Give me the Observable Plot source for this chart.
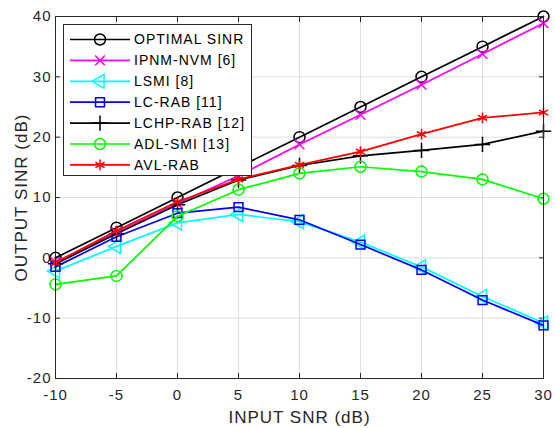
<!DOCTYPE html>
<html>
<head>
<meta charset="utf-8">
<script src="https://cdn.jsdelivr.net/npm/d3@7"></script>
<script src="https://cdn.jsdelivr.net/npm/@observablehq/plot@0.6"></script>
<style>
  html, body { margin: 0; padding: 0; background: #fff; }
  #wrap { position: relative; width: 555px; height: 428px; font-family: "Liberation Sans", Arial, sans-serif; }
  #legend { position: absolute; left: 0; top: 0; }
</style>
</head>
<body>
<div id="wrap"></div>
<script>
const snr = [-10, -5, 0, 5, 10, 15, 20, 25, 30];
const optimal = [0, 5, 10, 15, 20, 25, 30, 35, 40];
const ipnm = [-0.7, 4.2, 9.0, 13.6, 18.8, 23.7, 28.7, 33.8, 38.9];
const lsmi = [-2.2, 1.9, 5.8, 7.2, 6.0, 2.6, -1.5, -6.4, -10.8];
const lcrab = [-1.5, 3.5, 7.4, 8.4, 6.3, 2.2, -2.0, -7.0, -11.2];
const lchp = [-1.0, 4.0, 8.8, 12.9, 15.3, 16.9, 17.8, 18.8, 21.0];
const adl = [-4.4, -3.0, 6.9, 11.3, 14.0, 15.1, 14.3, 13.0, 9.8];
const avl = [-0.8, 4.5, 9.3, 13.0, 15.4, 17.6, 20.5, 23.2, 24.1];

const xTicks = [-10, -5, 0, 5, 10, 15, 20, 25, 30];
const yTicks = [-20, -10, 0, 10, 20, 30, 40];
const xLabel = "INPUT SNR (dB)";
const yLabel = "OUTPUT SINR (dB)";

const series = [
  {name: "OPTIMAL SINR", values: optimal, color: "#000000", symbol: "circle", rotate: 0},
  {name: "IPNM-NVM [6]", values: ipnm, color: "#ff00ff", symbol: "times", rotate: 0},
  {name: "LSMI [8]", values: lsmi, color: "#00ffff", symbol: "triangle", rotate: -90},
  {name: "LC-RAB [11]", values: lcrab, color: "#0000ff", symbol: "square", rotate: 0},
  {name: "LCHP-RAB [12]", values: lchp, color: "#000000", symbol: "plus", rotate: 0},
  {name: "ADL-SMI [13]", values: adl, color: "#00ff00", symbol: "circle", rotate: 0},
  {name: "AVL-RAB", values: avl, color: "#ff0000", symbol: "asterisk", rotate: 0}
];

const symSize = {circle: 5.5, times: 4.5, triangle: 5.2, square: 5, plus: 5, asterisk: 5};
const fmt = d => String(d);
const font = "'Liberation Sans', Arial, sans-serif";

const marks = [
  Plot.gridX(xTicks, {stroke: "#dedede", strokeOpacity: 1}),
  Plot.gridY(yTicks, {stroke: "#dedede", strokeOpacity: 1}),
  Plot.axisX(xTicks, {anchor: "bottom", tickSize: 0, tickPadding: 11, fontSize: 15, fill: "#262626", tickFormat: fmt, label: null}),
  Plot.axisY(yTicks, {anchor: "left", tickSize: 0, tickPadding: 4, fontSize: 15, fill: "#262626", tickFormat: fmt, label: null}),
  Plot.axisX(xTicks, {anchor: "bottom", tickSize: -5, tickFormat: () => "", label: null, stroke: "#262626"}),
  Plot.axisX(xTicks, {anchor: "top", tickSize: -5, tickFormat: () => "", label: null, stroke: "#262626"}),
  Plot.axisY(yTicks, {anchor: "left", tickSize: -5, tickFormat: () => "", label: null, stroke: "#262626"}),
  Plot.axisY(yTicks, {anchor: "right", tickSize: -5, tickFormat: () => "", label: null, stroke: "#262626"}),
  Plot.text([xLabel], {frameAnchor: "bottom", lineAnchor: "middle", textAnchor: "middle", dy: 39.5, fontSize: 17, fill: "#262626", text: d => d}),
  Plot.text([yLabel], {frameAnchor: "left", lineAnchor: "middle", textAnchor: "middle", dx: -34, rotate: -90, fontSize: 17, fill: "#262626", text: d => d})
];

for (const s of series) {
  const data = snr.map((x, i) => ({x, y: s.values[i]}));
  marks.push(Plot.line(data, {x: "x", y: "y", stroke: s.color, strokeWidth: 1.7}));
  marks.push(Plot.dot(data, {x: "x", y: "y", stroke: s.color, fill: "none", symbol: s.symbol, r: symSize[s.symbol], rotate: s.rotate, strokeWidth: 1.5}));
}
marks.push(Plot.frame({stroke: "#262626", strokeWidth: 1}));

const chart = Plot.plot({
  width: 555,
  height: 428,
  marginLeft: 55,
  marginRight: 12,
  marginTop: 16,
  marginBottom: 50,
  style: {fontFamily: font, fontSize: "15px", background: "#fff", color: "#262626", letterSpacing: "1px"},
  x: {domain: [-10, 30]},
  y: {domain: [-20, 40]},
  marks
});
document.getElementById("wrap").appendChild(chart);

// Legend overlay
const lg = d3.select("#wrap").append("svg")
  .attr("id", "legend")
  .attr("width", 555).attr("height", 428);
const box = {x: 63.5, y: 24.5, w: 188, h: 151};
lg.append("rect").attr("x", box.x).attr("y", box.y).attr("width", box.w).attr("height", box.h)
  .attr("fill", "#fff").attr("stroke", "#262626").attr("stroke-width", 1);
const symMap = {circle: d3.symbolCircle, times: d3.symbolTimes, triangle: d3.symbolTriangle, square: d3.symbolSquare, plus: d3.symbolPlus, asterisk: d3.symbolAsterisk};
series.forEach((s, i) => {
  const cy = 39.5 + i * 20.9;
  const g = lg.append("g");
  g.append("line").attr("x1", 70).attr("x2", 130).attr("y1", cy).attr("y2", cy)
    .attr("stroke", s.color).attr("stroke-width", 1.7);
  const r = symSize[s.symbol];
  g.append("path").attr("d", d3.symbol(symMap[s.symbol], Math.PI * r * r)())
    .attr("transform", `translate(100,${cy}) rotate(${s.rotate})`)
    .attr("fill", "none").attr("stroke", s.color).attr("stroke-width", 1.5);
  g.append("text").attr("x", 134).attr("y", cy).attr("dy", "0.35em")
    .attr("font-size", 14).attr("fill", "#000")
    .attr("font-family", font)
    .style("letter-spacing", "1px")
    .text(s.name);
});
</script>
</body>
</html>
